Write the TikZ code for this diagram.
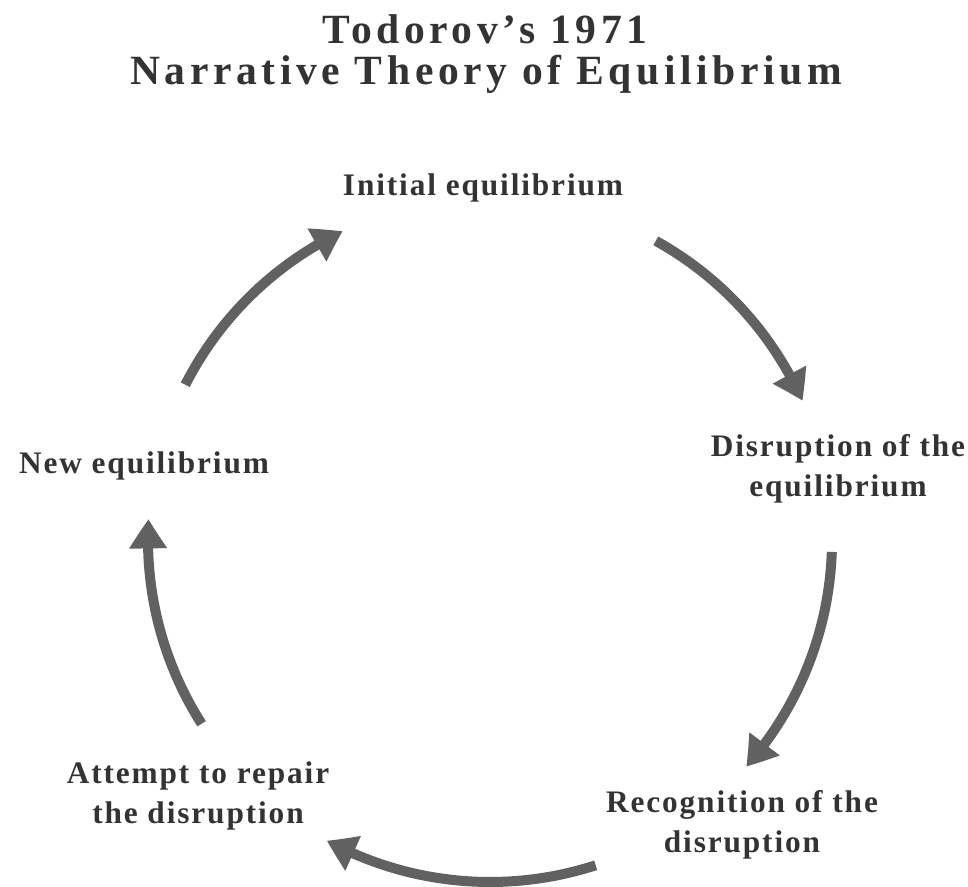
\documentclass[tikz,border=0pt]{standalone}
\usepackage{fontspec}
\setmainfont{Liberation Serif}
\newfontfamily\titlefont[LetterSpace=11]{Liberation Serif}
\newfontfamily\labelfont[LetterSpace=6]{Liberation Serif}
\usetikzlibrary{arrows.meta,bending,calc}
\definecolor{txtgray}{HTML}{333333}
\definecolor{arrgray}{HTML}{616161}
\tikzset{
  cyc/.style={draw=arrgray, line width=7.5pt, -{Triangle[length=22pt,width=27pt,bend]}},
  lbl/.style={text=txtgray, font=\labelfont\bfseries\fontsize{23.5}{30}\selectfont, align=center, inner sep=0pt},
  ttl/.style={text=txtgray, font=\titlefont\bfseries\fontsize{31.2}{32}\selectfont, align=center, inner sep=0pt}
}
\begin{document}
\begin{tikzpicture}[x=0.75pt,y=0.75pt]
\useasboundingbox (0,0) rectangle (968,887);
% title
\node[ttl] (t1) at (485,858) {Todorov’s 1971};
\node[ttl] (t2) at (486,813) {Narrative Theory of Equilibrium};
% labels
\node[lbl] (init) at (483,699) {Initial equilibrium};
\node[lbl] (newe) at (144,421) {New equilibrium};
\node[lbl] (disr) at (838,418) {Disruption of the\\equilibrium};
\node[lbl] (reco) at (742,62) {Recognition of the\\disruption};
\node[lbl] (att) at (198,91) {Attempt to repair\\the disruption};
% circle centre
\coordinate (C) at (490,347);
\def\R{342}
\coordinate (s1) at ($(C)+(153:\R)$);
\coordinate (s2) at ($(C)+(61:\R)$);
\coordinate (s3) at ($(C)+(-2:\R)$);
\coordinate (s4) at ($(C)+(-72:\R)$);
\coordinate (s5) at ($(C)+(212.5:\R)$);
\draw[cyc] (s1) arc[start angle=153, end angle=115.5, radius=\R];
\draw[cyc] (s2) arc[start angle=61, end angle=24, radius=\R];
\draw[cyc] (s3) arc[start angle=-2, end angle=-41.5, radius=\R];
\draw[cyc] (s4) arc[start angle=-72, end angle=-118.5, radius=\R];
\draw[cyc] (s5) arc[start angle=212.5, end angle=176.5, radius=\R];
\end{tikzpicture}
\end{document}
